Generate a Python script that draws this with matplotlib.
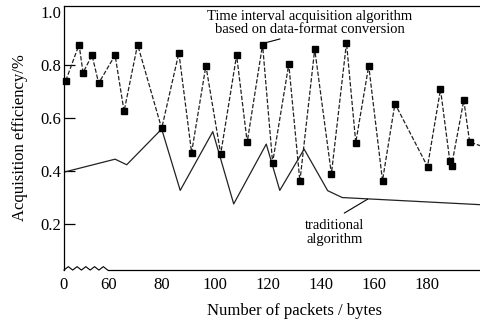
# -*- coding: utf-8 -*-
import numpy as np
import matplotlib
matplotlib.use('Agg')
import matplotlib.pyplot as plt

plt.rcParams['font.family'] = ['Liberation Serif', 'DejaVu Serif']

# proposed method (dashed line with square markers)
x_new = [43.7, 48.7, 50.2, 53.6, 56.1, 62.3, 65.7, 70.8, 79.9, 86.4, 91.2, 96.6,
         102.2, 108.2, 112.2, 118.0, 121.8, 127.9, 132.1, 137.7, 144.0, 149.7,
         153.2, 158.1, 163.3, 168.0, 180.3, 185.2, 188.7, 189.4, 194.0, 196.2, 200.5]
y_new = [0.741, 0.877, 0.771, 0.837, 0.731, 0.837, 0.625, 0.877, 0.560, 0.846, 0.469, 0.797,
         0.464, 0.837, 0.508, 0.877, 0.431, 0.803, 0.360, 0.860, 0.388, 0.884,
         0.507, 0.797, 0.363, 0.654, 0.416, 0.708, 0.439, 0.420, 0.667, 0.509, 0.494]

# traditional algorithm (solid line)
x_old = [43.0, 62.3, 66.7, 79.9, 86.9, 99.2, 107.1, 119.4, 124.5, 133.7, 142.6, 148.1, 200.5]
y_old = [0.395, 0.444, 0.423, 0.558, 0.326, 0.548, 0.275, 0.501, 0.326, 0.482, 0.325, 0.299, 0.272]

xticks = [43, 60, 80, 100, 120, 140, 160, 180]
xticklabels = ['0', '60', '80', '100', '120', '140', '160', '180']
yticks = [0.2, 0.4, 0.6, 0.8, 1.0]

fig = plt.figure(figsize=(4.81, 3.25), dpi=100)
ax = fig.add_axes([0.133, 0.169, 0.867, 0.8135])

ax.plot(x_old, y_old, '-', color='#222222', lw=0.9)
ax.plot(x_new, y_new, color='#222222', lw=0.9, dashes=(3.5, 1.5),
        marker='s', ms=5, mfc='black', mec='black',
        markevery=list(range(len(x_new) - 1)), clip_on=False)

ax.set_xlim(43, 200.5)
ax.set_ylim(0.025, 1.024)

ax.set_xticks(xticks)
ax.set_xticklabels(xticklabels)
ax.set_yticks(yticks)
ax.set_yticklabels(['0.2', '0.4', '0.6', '0.8', '1.0'])
ax.tick_params(axis='y', direction='in', length=8, width=0.9, pad=2, labelsize=12)
ax.tick_params(axis='x', length=0, pad=5, labelsize=12)
ax.yaxis.get_major_ticks()[-1].tick1line.set_visible(False)

ax.spines['right'].set_visible(False)
ax.spines['bottom'].set_bounds(59.5, 200.5)
for s in ['left', 'top', 'bottom']:
    ax.spines[s].set_linewidth(0.9)

# broken axis zigzag
zx = np.linspace(43, 59.5, 11)
zy = np.array([0, 1] * 5 + [0]) * 0.013
ax.plot(zx, zy, color='black', lw=0.8, transform=ax.get_xaxis_transform(), clip_on=False)

ax.set_xlabel('Number of packets / bytes', fontsize=12)
ax.xaxis.set_label_coords(0.553, -0.125)
ax.set_ylabel('Acquisition efficiency/%', fontsize=12, labelpad=9)

ax.annotate('Time interval acquisition algorithm\nbased on data-format conversion',
            xy=(118.8, 0.883), xytext=(135.8, 0.958), fontsize=10.5,
            ha='center', va='center', linespacing=1.0,
            arrowprops=dict(arrowstyle='-', lw=0.8, color='black', shrinkA=0, shrinkB=0,
                            relpos=(0.43, 0.05)))
ax.annotate('traditional\nalgorithm', xy=(157.7, 0.293), xytext=(145.3, 0.219),
            fontsize=10.5, ha='center', va='top', linespacing=1.1,
            arrowprops=dict(arrowstyle='-', lw=0.8, color='black', shrinkA=4, shrinkB=0,
                            relpos=(0.5, 1.0)))

fig.savefig('out.png', dpi=100)
